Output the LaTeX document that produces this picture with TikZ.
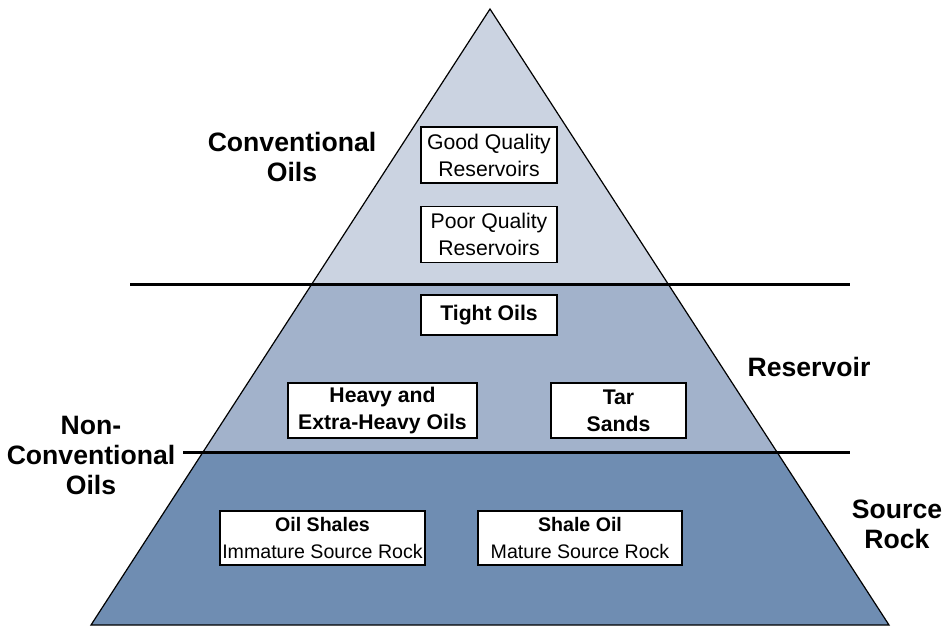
\documentclass[tikz,border=0pt]{standalone}
\usepackage{fontspec}
\setmainfont{Liberation Sans}
\usetikzlibrary{positioning}

\definecolor{convfill}{HTML}{CBD3E1}
\definecolor{resfill}{HTML}{A2B2CB}
\definecolor{srcfill}{HTML}{6F8DB2}

\begin{document}
\begin{tikzpicture}[
    x=0.5pt, y=-0.5pt,
    box/.style={draw, fill=white, line width=0.6pt, inner sep=0pt, align=center, font=\fontsize{10.6}{13.5}\selectfont},
    boldbox/.style={box, font=\fontsize{10.6}{13.5}\selectfont\bfseries},
    rockbox/.style={box, font=\fontsize{9.8}{13.5}\selectfont},
    zonetext/.style={align=center, inner sep=0pt, font=\fontsize{13.3}{15}\selectfont\bfseries},
    divider/.style={line width=1.5pt},
]
\useasboundingbox (0,0) rectangle (947,627);

\coordinate (apex) at (490,9);
\coordinate (baseL) at (91,625);
\coordinate (baseR) at (889,625);
\coordinate (upL) at (311.9,284);
\coordinate (upR) at (668.1,284);
\coordinate (lowL) at (203.1,452);
\coordinate (lowR) at (776.9,452);

% the three bands of the pyramid
\fill[convfill] (apex) -- (upL) -- (upR) -- cycle;
\fill[resfill] (upL) -- (upR) -- (lowR) -- (lowL) -- cycle;
\fill[srcfill] (lowL) -- (lowR) -- (baseR) -- (baseL) -- cycle;
\draw[line width=0.6pt] (apex) -- (baseL) -- (baseR) -- cycle;

\coordinate (div1a) at (130,284);
\coordinate (div1b) at (850,284);
\coordinate (div2a) at (183,452);
\coordinate (div2b) at (850,452);
\draw[divider] (div1a) -- (div1b);
\draw[divider] (div2a) -- (div2b);

\node[box, minimum width=68pt, minimum height=28pt] (good) at (489,155) {Good Quality\\Reservoirs};
\node[box, minimum width=68pt, minimum height=28pt, below=11pt of good] (poor) {Poor Quality\\Reservoirs};
\node[boldbox, minimum width=68pt, minimum height=20pt] (tight) at (489,315) {Tight Oils};
\node[boldbox, minimum width=94.5pt, minimum height=27.5pt] (heavy) at (382.5,410.5) {Heavy and\\Extra-Heavy Oils};
\node[boldbox, minimum width=67.5pt, minimum height=27.5pt] (tar) at (618.5,410.5) {Tar\\Sands};
\node[rockbox, minimum width=102.5pt, minimum height=27pt] (shales) at (322.5,538) {\textbf{Oil Shales}\\Immature Source Rock};
\node[rockbox, minimum width=102pt, minimum height=27pt] (shaleoil) at (580,538) {\textbf{Shale Oil}\\Mature Source Rock};

\node[zonetext] (conv) at (292,157) {Conventional\\Oils};
\node[zonetext] (nonconv) at (91,455) {Non-\\Conventional\\Oils};
\node[zonetext] (reservoir) at (809,367) {Reservoir};
\node[zonetext] (source) at (897,524) {Source\\Rock};
\end{tikzpicture}
\end{document}
